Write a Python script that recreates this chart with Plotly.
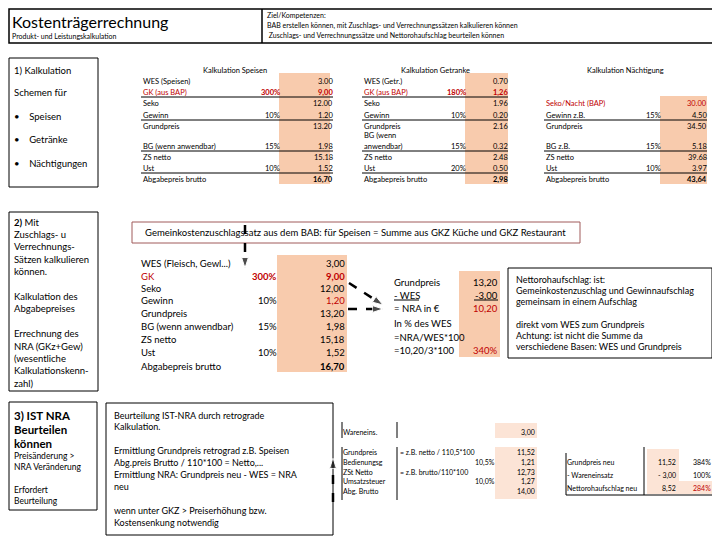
import plotly.graph_objects as go

FONT = "Lato"
RED = "#C00000"
PEACH = "#F8CBAD"
PEACH_LIGHT = "#FCE4D6"

# --- Kalkulation Speisen (top) ---
sp_labels = ["WES (Speisen)", "GK (aus BAP)", "Seko", "Gewinn", "Grundpreis",
             "BG (wenn anwendbar)", "ZS netto", "Ust", "Abgabepreis brutto"]
sp_pct = ["", "300%", "", "10%", "", "15%", "", "10%", ""]
sp_val = ["3.00", "9,00", "12.00", "1.20", "13.20", "1.98", "15.18", "1.52", "16,70"]

# --- Kalkulation Getränke ---
ge_labels = ["WES (Getr.)", "GK (aus BAP)", "Seko", "Gewinn", "Grundpreis", "BG (wenn",
             "anwendbar)", "ZS netto", "Ust", "Abgabepreis brutto"]
ge_pct = ["", "180%", "", "10%", "", "", "15%", "", "20%", ""]
ge_val = ["0.70", "1,26", "1.96", "0.20", "2.16", "", "0.32", "2.48", "0.50", "2,98"]

# --- Kalkulation Nächtigung ---
na_labels = ["Seko/Nacht (BAP)", "Gewinn z.B.", "Grundpreis", "BG z.B.", "ZS netto", "Ust",
             "Abgabepreis brutto"]
na_pct = ["", "15%", "", "15%", "", "10%", ""]
na_val = ["30.00", "4.50", "34.50", "5.18", "39.68", "3.97", "43,64"]

# --- Speisen mit Zuschlagssätzen (middle) ---
mid_labels = ["WES (Fleisch, Gewl...)", "GK", "Seko", "Gewinn", "Grundpreis",
              "BG (wenn anwendbar)", "ZS netto", "Ust", "Abgabepreis brutto"]
mid_pct = ["", "300%", "", "10%", "", "15%", "", "10%", ""]
mid_val = ["3,00", "9,00", "12,00", "1,20", "13,20", "1,98", "15,18", "1,52", "16,70"]

# --- NRA ---
nra_labels = ["Grundpreis", "- WES", "= NRA in €", "In % des WES", "=NRA/WES*100", "=10,20/3*100"]
nra_val = ["13,20", "-3,00", "10,20", "", "", "340%"]

# --- retrograde Kalkulation ---
ret_labels = ["Wareneins.", "Grundpreis", "Bedienungsg", "ZSt Netto", "Umsatzsteuer", "Abg. Brutto"]
ret_note = ["", "= z.B. netto / 110,5*100", "", "= z.B. brutto/110*100", "", ""]
ret_pct = ["", "", "10,5%", "", "10,0%", ""]
ret_val = ["3,00", "11,52", "1,21", "12,73", "1,27", "14,00"]

neu_labels = ["Grundpreis neu", "- Wareneinsatz", "Nettorohaufschlag neu"]
neu_val = ["11,52", "- 3,00", "8,52"]
neu_pct = ["384%", "100%", "284%"]

ann = []
shapes = []


def txt(x, y, s, size=8, anchor="left", color="black", bold=False):
    if bold:
        s = "<b>" + s + "</b>"
    ann.append(dict(x=x, y=y, text=s, showarrow=False, xanchor=anchor, yanchor="middle",
                    font=dict(family=FONT, size=size, color=color)))


def rect(x0, y0, x1, y1, color="black", width=1, fill=None):
    shapes.append(dict(type="rect", x0=x0, y0=y0, x1=x1, y1=y1, layer="below",
                       line=dict(color=color, width=width), fillcolor=fill))


def shade(x0, y0, x1, y1, fill):
    shapes.append(dict(type="rect", x0=x0, y0=y0, x1=x1, y1=y1, layer="below",
                       line=dict(width=0), fillcolor=fill))


def line(x0, y0, x1, y1, width=1):
    shapes.append(dict(type="line", x0=x0, y0=y0, x1=x1, y1=y1,
                       line=dict(color="black", width=width)))


def lines_block(x, y0, step, rows, size):
    for i, r in enumerate(rows):
        if r:
            txt(x, y0 + i * step, r, size=size)


fig = go.Figure()

# header
rect(9, 9, 717, 43, width=1.5)
line(262, 9, 262, 43, width=1.5)
txt(10, 21, "Kostenträgerrechnung", size=16)
txt(10, 36, "Produkt- und Leistungskalkulation", size=7)
txt(265, 15, "Ziel/Kompetenzen:", size=7)
txt(265, 25, "BAB erstellen können, mit Zuschlags- und Verrechnungssätzen kalkulieren können", size=7)
txt(265, 35, " Zuschlags- und Verrechnungssätze und Nettorohaufschlag beurteilen können", size=7)

# left boxes
rect(9, 58, 98, 187)
txt(12, 70, "1) Kalkulation", size=9.5)
txt(12, 92, "Schemen für", size=9.5)
for y, s in zip([116, 139, 163], ["Speisen", "Getränke", "Nächtigungen"]):
    txt(12, y, "•    " + s, size=9.5)

rect(9, 212, 98, 391)
lines_block(12, 222, 12.4, ["<b>2)</b> Mit", "Zuschlags- u", "Verrechnungs-", "Sätzen kalkulieren",
                            "können.", "", "Kalkulation des", "Abgabepreises", "", "Errechnung des",
                            "NRA (GKz+Gew)", "(wesentliche", "Kalkulationskenn-", "zahl)"], 9.5)

rect(9, 402, 97, 510)
lines_block(12, 415, 14, ["<b>3) IST NRA</b>", "<b>Beurteilen</b>", "<b>können</b>"], 11.5)
lines_block(12, 456, 11.3, ["Preisänderung >", "NRA Veränderung", "", "Erfordert", "Beurteilung"], 8.5)

# top tables
top_y = [81, 92, 103, 115, 126, 146, 157, 168, 179]
txt(235, 70, "Kalkulation Speisen", size=7.5, anchor="center")
shade(279, 73, 330, 184, PEACH)
for y, l, p, v in zip(top_y, sp_labels, sp_pct, sp_val):
    red = l.startswith("GK")
    txt(141, y, l, size=7.5, color=RED if red else "black")
    if p:
        txt(282, y, p, size=7.5, anchor="right", color=RED if red else "black", bold=red)
    txt(335, y, v, size=7.5, anchor="right", color=RED if red else "black",
        bold=red or l.startswith("Abgabe"))
for y in [97, 120, 151, 173]:
    line(141, y, 333, y)

ge_y = [81, 92, 103, 115, 126, 135, 146, 157, 168, 179]
txt(435, 70, "Kalkulation Getranke", size=7.5, anchor="center")
shade(465, 73, 508, 184, PEACH)
for y, l, p, v in zip(ge_y, ge_labels, ge_pct, ge_val):
    red = l.startswith("GK")
    txt(362, y, l, size=7.5, color=RED if red else "black")
    if p:
        txt(468, y, p, size=7.5, anchor="right", color=RED if red else "black", bold=red)
    if v:
        txt(510, y, v, size=7.5, anchor="right", color=RED if red else "black",
            bold=red or l.startswith("Abgabe"))
for y in [97, 120, 151, 173]:
    line(362, y, 508, y)

na_y = [103, 115, 126, 146, 157, 168, 179]
txt(625, 70, "Kalkulation Nächtigung", size=7.5, anchor="center")
shade(660, 96, 707, 184, PEACH)
for y, l, p, v in zip(na_y, na_labels, na_pct, na_val):
    red = l.startswith("Seko")
    txt(544, y, l, size=7.5, color=RED if red else "black")
    if p:
        txt(663, y, p, size=7.5, anchor="right")
    txt(709, y, v, size=7.5, anchor="right", color=RED if red else "black",
        bold=l.startswith("Abgabe"))
for y in [120, 151, 173]:
    line(544, y, 707, y)

# middle section
rect(132, 222, 580, 243, color="#A05A5A", width=1)
txt(143, 232, "Gemeinkostenzuschlagssatz aus dem BAB: für Speisen = Summe aus GKZ Küche und GKZ Restaurant",
    size=9.5)

mid_y = [263, 276, 288, 300, 313, 326, 339, 352, 366]
shade(277, 255, 347, 372, PEACH)
for y, l, p, v in zip(mid_y, mid_labels, mid_pct, mid_val):
    red = l == "GK"
    txt(139, y, l, size=9.5, color=RED if red else "black")
    if p:
        txt(279, y, p, size=9.5, anchor="right", color=RED if red else "black", bold=red)
    txt(347, y, v, size=9.5, anchor="right",
        color=RED if (red or l == "Gewinn") else "black",
        bold=red or l.startswith("Abgabe"))

nra_y = [282, 295, 308, 323, 337, 350]
shade(459, 271, 500, 357, PEACH)
for y, l, v in zip(nra_y, nra_labels, nra_val):
    txt(392, y, l, size=9.5)
    if v:
        txt(500, y, v, size=9.5, anchor="right", color=RED if l.startswith("=") else "black")
line(394, 300, 419, 300)
line(474, 300, 498, 300)

rect(508, 268, 712, 358)
lines_block(514, 279, 11.3, ["Nettorohaufschlag: ist:", "Gemeinkostenzuschlag und Gewinnaufschlag",
                             "gemeinsam in einem Aufschlag", "", "direkt vom WES zum Grundpreis",
                             "Achtung: ist nicht die Summe da", "verschiedene Basen: WES und Grundpreis"], 9)

# bottom
rect(106, 403, 333, 535)
lines_block(112, 415, 11.9, ["Beurteilung IST-NRA durch retrograde", "Kalkulation.", "",
                             "Ermittlung Grundpreis retrograd z.B. Speisen",
                             "Abg.preis Brutto / 110*100 = Netto,...",
                             "Ermittlung NRA: Grundpreis neu - WES = NRA", "neu", "",
                             "wenn unter GKZ > Preiserhöhung bzw.", "Kostensenkung notwendig"], 9)

ret_y = [432, 452, 462, 472, 481, 491]
shade(495, 423, 537, 438, PEACH_LIGHT)
shade(495, 447, 537, 499, PEACH_LIGHT)
for x in [342, 397]:
    line(x, 422, x, 438)
    line(x, 447, x, 500)
for y, l, n, p, v in zip(ret_y, ret_labels, ret_note, ret_pct, ret_val):
    txt(341, y, l, size=7)
    if n:
        txt(398, y, n, size=7)
    if p:
        txt(497, y, p, size=7, anchor="right")
    txt(537, y, v, size=7, anchor="right")

neu_y = [462, 475, 488]
shade(647, 449, 679, 494, PEACH_LIGHT)
shade(679, 481, 713, 494, PEACH_LIGHT)
line(566, 453, 566, 495)
line(644, 447, 644, 495)
line(566, 495, 716, 495)
for y, l, v, p in zip(neu_y, neu_labels, neu_val, neu_pct):
    txt(565, y, l, size=7)
    txt(678, y, v, size=7, anchor="right")
    txt(713, y, p, size=7, anchor="right", color=RED if l.startswith("Netto") else "black")

# dashed arrows
arrows = [([245, 245], [225, 268]), ([349, 383], [283, 305]), ([348, 383], [309, 309]),
          ([333, 333], [502, 458])]
for ax_, ay_ in arrows:
    fig.add_trace(go.Scatter(x=ax_, y=ay_, mode="lines+markers",
                             line=dict(color="black", width=2.5, dash="dash"),
                             marker=dict(symbol=["circle", "arrow"], size=[0, 11],
                                         angleref="previous", color="black"),
                             hoverinfo="skip", showlegend=False))

# page body has an 8px margin: offset the axis ranges so figure pixels land on page pixels
fig.update_layout(width=712, height=532, margin=dict(l=0, r=0, t=0, b=0),
                  plot_bgcolor="white", paper_bgcolor="white",
                  xaxis=dict(range=[8, 720], visible=False, fixedrange=True),
                  yaxis=dict(range=[540, 8], visible=False, fixedrange=True),
                  annotations=ann, shapes=shapes)
fig.write_html("out.html")
